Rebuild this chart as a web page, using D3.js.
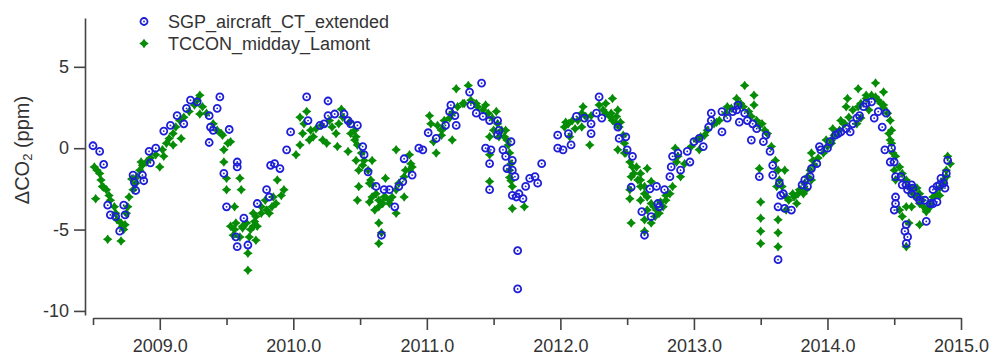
<!DOCTYPE html>
<html>
<head>
<meta charset="utf-8">
<script src="https://cdn.jsdelivr.net/npm/d3@7"></script>
<style>
  html, body { margin: 0; padding: 0; background: #fff; }
  svg { display: block; }
  text { font-family: "Liberation Sans", Arial, sans-serif; }
</style>
</head>
<body>
<svg id="chart" width="992" height="358"></svg>
<script>
// ---- data (decimal year, delta CO2 in ppm) ----
const seriesNames = ["SGP_aircraft_CT_extended", "TCCON_midday_Lamont"];

const sgpPoints = [
[2008.50,0.15],[2008.55,-0.2],[2008.58,-1.0],[2008.61,-3.5],[2008.63,-4.1],[2008.67,-4.2],[2008.70,-5.1],
[2008.74,-4.1],[2008.73,-3.5],[2008.80,-1.65],[2008.81,-2.1],[2008.82,-2.6],[2008.87,-1.65],[2008.88,-2.0],
[2008.92,-0.2],[2008.97,0],[2008.93,-0.9],[2009.03,1.05],[2009.08,1.4],[2009.13,2.0],[2009.18,1.5],
[2009.20,2.45],[2009.23,2.95],[2009.28,2.85],[2009.37,2.0],[2009.43,2.45],[2009.45,3.15],[2009.38,1.3],
[2009.40,1.1],[2009.37,0.35],[2009.52,1.15],[2009.48,-1.55],[2009.58,-0.85],[2009.58,-1.15],[2009.50,-3.6],
[2009.57,-5.45],[2009.58,-6.05],[2009.66,-5.95],[2009.63,-4.3],[2009.73,-3.4],[2009.80,-2.55],[2009.82,-3.0],
[2009.83,-1.05],[2009.86,-0.95],[2009.90,-1.25],[2009.95,-0.1],[2009.98,1.0],
[2010.10,3.15],[2010.11,1.7],[2010.20,1.4],[2010.23,1.5],[2010.26,2.0],[2010.26,2.9],[2010.31,2.1],
[2010.38,2.1],[2010.41,1.7],[2010.43,1.5],[2010.48,1.4],[2010.52,0.1],[2010.53,-0.4],[2010.56,-1.45],
[2010.62,-2.35],[2010.68,-2.55],[2010.72,-2.55],[2010.76,-3.6],[2010.79,-2.35],[2010.66,-5.35],[2010.82,-2.05],
[2010.83,-0.65],[2010.89,-1.65],[2010.94,0.0],[2010.97,-0.1],[2011.01,0.95],[2011.07,0.6],[2011.14,1.4],
[2011.17,2.25],[2011.21,2.0],[2011.22,1.4],[2011.18,2.65],[2011.32,3.45],[2011.41,4.0],[2011.33,2.65],
[2011.37,2.15],[2011.42,1.95],[2011.47,1.7],[2011.53,1.7],[2011.54,1.1],[2011.44,0.0],[2011.48,-0.1],
[2011.53,0.8],[2011.47,-0.95],[2011.47,-2.55],[2011.57,-0.1],[2011.59,-0.5],[2011.63,0.4],[2011.64,-0.75],
[2011.60,-1.25],[2011.64,-1.35],[2011.66,-1.75],[2011.64,-2.9],[2011.67,-3.0],[2011.69,-2.8],[2011.72,-3.1],
[2011.74,-2.35],[2011.77,-1.85],[2011.81,-1.75],[2011.83,-2.15],[2011.86,-0.95],[2011.68,-6.3],[2011.68,-8.65],
[2011.98,0.8],[2011.98,0.0],[2012.02,-0.1],[2012.06,0.9],[2012.08,0.2],[2012.12,1.95],[2012.18,1.85],
[2012.23,1.5],[2012.23,0.9],[2012.27,2.15],[2012.31,1.85],[2012.29,3.15],[2012.43,1.3],[2012.44,0.6],
[2012.49,0.7],[2012.50,-0.1],[2012.54,-0.5],[2012.53,-2.4],[2012.61,-3.9],[2012.63,-5.35],[2012.68,-4.2],
[2012.67,-2.5],[2012.72,-2.35],[2012.73,-3.4],[2012.74,-3.6],[2012.78,-2.55],[2012.82,-1.75],[2012.83,-1.15],
[2012.84,-0.5],[2012.88,-0.3],[2012.90,-1.35],[2012.95,-0.2],[2012.97,-0.85],[2013.00,0.4],[2013.04,0.6],
[2013.07,0.1],[2013.11,1.3],[2013.13,2.15],[2013.13,1.7],[2013.21,2.25],[2013.21,1.0],[2013.25,1.85],
[2013.29,2.25],[2013.32,2.35],[2013.33,2.65],[2013.34,1.6],[2013.38,2.15],[2013.40,1.7],[2013.44,1.5],
[2013.47,1.2],[2013.43,0.5],[2013.52,0.4],[2013.54,0.8],[2013.57,-0.2],[2013.59,-1.05],[2013.59,-1.65],
[2013.49,-1.75],[2013.63,-6.85],[2013.65,-2.9],[2013.68,-3.7],[2013.64,-2.15],[2013.67,-2.8],[2013.73,-3.8],
[2013.63,-3.6],[2013.81,-2.25],[2013.83,-1.95],[2013.85,-2.35],[2013.87,-1.75],[2013.88,-1.25],[2013.92,-0.95],
[2013.94,0.1],[2013.95,-0.1],[2014.00,0],[2014.02,0.4],[2014.06,0.8],[2014.08,0.9],[2014.10,1.0],
[2014.14,1.2],[2014.17,1.0],[2014.19,1.5],[2014.22,1.85],[2014.24,2.0],[2014.27,2.55],[2014.29,2.75],
[2014.33,2.85],[2014.35,1.85],[2014.38,2.25],[2014.41,1.3],[2014.44,2.15],[2014.43,-0.1],[2014.48,0],
[2014.47,-0.85],[2014.50,-0.85],[2014.51,-1.75],[2014.55,-1.75],[2014.56,-2.25],[2014.59,-2.25],[2014.60,-2.55],
[2014.63,-2.8],[2014.51,-3.0],[2014.51,-3.4],[2014.50,-3.8],[2014.59,-4.7],[2014.58,-5.1],[2014.60,-5.45],
[2014.59,-5.85],[2014.63,-2.25],[2014.64,-2.45],[2014.67,-3.0],[2014.69,-3.2],[2014.73,-3.2],[2014.74,-4.5],
[2014.77,-3.4],[2014.79,-3.4],[2014.82,-3.3],[2014.79,-2.55],[2014.82,-2.35],[2014.84,-2.25],[2014.85,-1.85],
[2014.87,-2.15],[2014.88,-2.45],[2014.89,-1.55],[2014.90,-0.75]
];

const tcconPoints = [
[2008.53,-1.35],[2008.52,-3.1],[2008.58,-2.4],[2008.61,-5.6],[2008.71,-5.7],[2008.74,-4.7],[2008.79,-1.9],
[2008.86,-0.85],[2009.00,-1.15],[2009.03,-0.5],[2009.10,0.2],[2009.16,0.6],[2009.30,3.25],[2009.30,2.1],
[2009.46,0.9],[2009.51,0.3],[2009.53,0.4],[2009.48,-0.1],[2009.48,-0.85],[2009.50,-1.85],[2009.60,-1.85],
[2009.61,-2.55],[2009.50,-2.55],[2009.56,-3.6],[2009.66,-6.45],[2009.66,-7.5],[2009.56,-5.0],[2009.62,-4.8],
[2009.68,-5.0],[2009.70,-4.0],[2009.71,-4.5],[2009.72,-4.2],[2009.72,-5.65],[2009.76,-3.6],[2009.79,-3.2],
[2009.85,-3.0],[2009.88,-1.95],[2010.02,-0.4],[2010.07,0.9],[2010.10,2.25],[2010.12,0.5],[2010.15,0.7],
[2010.05,0.2],[2010.22,0.5],[2010.25,0.3],[2010.32,0.9],[2010.33,0.1],[2010.36,2.4],[2010.41,-0.2],
[2010.43,0.9],[2010.46,0.5],[2010.47,-0.75],[2010.49,-1.35],[2010.52,-1.05],[2010.59,-0.75],[2010.49,-2.35],
[2010.48,-3.2],[2010.57,-2.15],[2010.59,-3.0],[2010.64,-3.6],[2010.68,-3.0],[2010.72,-3.4],[2010.64,-4.6],
[2010.66,-5.2],[2010.64,-5.85],[2010.69,-1.85],[2010.77,-0.1],[2010.77,-4.0],[2010.84,-1.35],[2010.87,-0.4],
[2010.88,-0.95],[2010.89,-1.15],[2010.83,-3.0],[2011.07,-0.3],[2011.02,2.0],[2011.03,1.5],[2011.05,0.4],
[2011.12,1.2],[2011.11,0.8],[2011.19,0.5],[2011.22,3.65],[2011.31,3.85],[2011.28,2.75],[2011.37,2.75],
[2011.44,2.65],[2011.52,2.25],[2011.59,1.1],[2011.60,0.5],[2011.47,0.7],[2011.50,1.1],[2011.54,0.7],
[2011.47,-0.4],[2011.47,-2.05],[2011.62,-1.8],[2011.63,-2.0],[2011.64,-3.7],[2011.73,-3.6],[2012.04,1.6],
[2012.07,0.7],[2012.11,1.2],[2012.17,2.55],[2012.16,1.3],[2012.22,0.2],[2012.39,3.05],[2012.34,2.75],
[2012.38,2.15],[2012.42,1.95],[2012.45,1.6],[2012.43,2.35],[2012.43,-0.1],[2012.48,-0.3],[2012.52,-0.85],
[2012.57,-1.15],[2012.60,-1.55],[2012.65,-1.25],[2012.53,-1.75],[2012.52,-2.55],[2012.52,-3.1],[2012.53,-4.6],
[2012.63,-5.1],[2012.60,-1.95],[2012.63,-2.35],[2012.68,-2.05],[2012.60,-3.2],[2012.65,-3.8],[2012.63,-4.4],
[2012.68,-4.6],[2012.71,-4.2],[2012.70,-3.6],[2012.75,-3.3],[2012.79,-2.9],[2012.84,-2.35],[2012.86,0],
[2012.87,-0.85],[2012.90,-1.75],[2013.04,-0.1],[2013.08,0.8],[2013.17,1.6],[2013.25,2.55],[2013.38,3.85],
[2013.32,3.05],[2013.35,2.75],[2013.45,3.25],[2013.45,2.65],[2013.49,1.4],[2013.53,1.1],[2013.49,-1.25],
[2013.50,-3.3],[2013.50,-4.3],[2013.50,-5.1],[2013.50,-5.85],[2013.62,-2.35],[2013.63,-4.4],[2013.63,-5.2],
[2013.63,-6.05],[2013.68,-1.35],[2013.69,-3.8],[2013.77,-3.4],[2013.74,-2.8],[2013.79,-2.55],[2013.82,-2.8],
[2013.84,-2.55],[2013.88,-1.95],[2013.89,-0.75],[2013.88,-0.3],[2013.87,-1.35],[2013.99,0.5],[2014.03,0.3],
[2014.04,1.2],[2014.10,1.7],[2014.13,1.5],[2014.14,2.55],[2014.15,3.05],[2014.23,3.65],[2014.29,3.25],
[2014.36,4.0],[2014.42,3.45],[2014.22,1.5],[2014.25,1.85],[2014.31,2.35],[2014.38,2.95],[2014.42,2.65],
[2014.46,0.9],[2014.47,0.5],[2014.48,0.3],[2014.49,-0.3],[2014.50,-1.35],[2014.51,-1.95],[2014.54,-3.8],
[2014.56,-4.2],[2014.59,-3.6],[2014.63,-3.6],[2014.59,-6.05],[2014.61,-4.6],[2014.64,-2.5],[2014.67,-2.45],
[2014.69,-2.8],[2014.71,-3.2],[2014.69,-4.7],[2014.74,-3.9],[2014.77,-3.6],[2014.84,-2.9],[2014.87,-1.95],
[2014.89,-1.35],[2014.90,-0.5],[2014.92,-0.95],
// dense bands
[2008.51,-1.15],[2008.55,-1.55],[2008.56,-1.95],[2008.57,-2.35],[2008.60,-2.55],[2008.62,-2.9],[2008.63,-3.2],
[2008.66,-3.6],[2008.67,-4.0],[2008.68,-4.4],[2008.71,-4.6],[2008.72,-4.8],[2008.73,-5.0],[2008.75,-4.0],
[2008.76,-3.6],[2008.77,-3.0],[2008.80,-2.55],[2008.82,-2.15],[2008.83,-1.75],[2008.85,-1.35],[2008.87,-1.05],
[2008.90,-0.85],[2008.93,-0.6],[2008.97,-0.4],[2009.02,-0.1],[2009.05,0.3],[2009.07,0.6],[2009.10,0.9],
[2009.12,1.3],[2009.15,1.7],[2009.18,1.9],[2009.22,2.25],[2009.26,2.65],[2009.28,2.95],[2009.32,2.55],
[2009.35,2.15],[2009.40,1.5],[2009.43,1.1],[2009.47,0.8],[2009.53,-4.8],[2009.55,-5.35],[2009.57,-4.6],
[2009.60,-5.45],[2009.62,-4.9],[2009.65,-4.6],[2009.67,-5.45],[2009.70,-4.8],[2009.73,-4.8],[2009.76,-4.0],
[2009.80,-3.8],[2009.82,-4.0],[2009.84,-3.6],[2009.87,-3.4],[2009.91,-2.9],[2009.93,-2.55],
[2010.05,1.9],[2010.08,1.5],[2010.13,1.1],[2010.17,1.2],[2010.21,1.4],[2010.27,1.7],[2010.29,1.3],
[2010.34,1.5],[2010.37,1.9],[2010.42,1.6],[2010.46,1.1],[2010.47,0.7],[2010.48,0.2],[2010.51,-0.3],
[2010.53,-0.75],[2010.56,-1.35],[2010.58,-1.95],[2010.59,-2.25],[2010.62,-2.8],[2010.64,-3.2],[2010.67,-3.4],
[2010.69,-3.0],[2010.72,-3.2],[2010.74,-3.0],[2010.77,-2.55],[2010.79,-2.15],[2010.83,-1.75],[2010.87,-1.35],
[2010.61,-3.8],[2010.57,-3.3],[2011.08,1.4],[2011.11,1.1],[2011.13,1.7],[2011.17,1.85],[2011.19,2.15],
[2011.23,2.55],[2011.27,2.75],[2011.33,2.95],[2011.38,2.55],[2011.42,2.35],[2011.46,2.15],[2011.49,1.85],
[2011.53,1.5],[2011.56,1.1],[2011.58,0.7],[2011.61,0.2],[2011.62,-0.3],[2011.63,-0.95],[2011.62,-1.35],
[2011.64,-2.35],[2012.03,1.3],[2012.06,1.5],[2012.09,1.7],[2012.13,1.7],[2012.16,2.15],[2012.19,1.95],
[2012.23,2.0],[2012.29,2.65],[2012.32,2.35],[2012.34,2.15],[2012.37,1.95],[2012.39,1.7],[2012.42,1.5],
[2012.44,1.3],[2012.47,0.8],[2012.48,0.3],[2012.49,-0.3],[2012.54,-1.15],[2012.55,-1.55],[2012.58,-1.95],
[2012.60,-2.35],[2012.63,-2.8],[2012.65,-3.0],[2012.68,-3.4],[2012.72,-3.8],[2012.74,-4.0],[2012.77,-3.6],
[2012.79,-3.2],[2012.82,-2.8],[2012.88,-0.5],[2012.93,-0.95],[2012.98,0.1],[2013.02,0.5],[2013.05,0.7],
[2013.10,1.1],[2013.15,1.5],[2013.19,1.7],[2013.24,2.15],[2013.28,2.45],[2013.33,2.75],[2013.37,2.55],
[2013.41,2.25],[2013.43,1.95],[2013.47,1.7],[2013.51,1.5],[2013.55,0.9],[2013.58,0.1],[2013.61,-0.75],
[2013.63,-1.35],[2013.64,-1.95],[2013.66,-2.35],[2013.69,-3.0],[2013.71,-3.2],[2013.75,-3.0],[2013.78,-2.8],
[2013.80,-2.55],[2013.83,-2.15],[2013.85,-1.75],[2013.90,-1.05],[2013.93,-0.6],[2013.97,-0.3],[2014.00,0.1],
[2014.03,0.5],[2014.05,0.8],[2014.09,1.1],[2014.12,1.5],[2014.16,1.9],[2014.19,2.35],[2014.23,2.55],
[2014.25,2.75],[2014.29,3.05],[2014.33,3.25],[2014.36,3.15],[2014.40,2.75],[2014.42,2.45],[2014.45,2.15],
[2014.47,1.7],[2014.48,1.1],[2014.51,-0.5],[2014.54,-1.15],[2014.56,-1.55],[2014.59,-1.95],[2014.61,-2.35],
[2014.64,-2.8],[2014.67,-3.0],[2014.69,-3.4],[2014.72,-3.6],[2014.74,-3.8],[2014.77,-3.4],[2014.79,-3.0],
[2014.82,-2.8],[2014.84,-2.45],[2014.87,-2.15],[2014.89,-1.75]
];

const xMajorTicks = [2009, 2010, 2011, 2012, 2013, 2014, 2015];
const xMinorTicks = [2008.5, 2009.5, 2010.5, 2011.5, 2012.5, 2013.5, 2014.5];
const yTicks = [-10, -5, 0, 5];

// ---- drawing ----
const svg = d3.select("#chart");
const blue = "#1e1ed8";
const green = "#078c07";
const axisColor = "#444";
const textColor = "#333";

const x = d3.scaleLinear().domain([2008.5, 2015.0]).range([93, 961]);
const y = d3.scaleLinear().domain([-10.25, 8]).range([315, 18]);

// y axis
svg.append("g").attr("transform", "translate(85,0)")
  .call(d3.axisLeft(y).tickValues(yTicks).tickFormat(d => String(d)).tickSize(11).tickSizeOuter(0).tickPadding(5));
// x axis major
svg.append("g").attr("transform", "translate(0,318)")
  .call(d3.axisBottom(x).tickValues(xMajorTicks).tickFormat(d3.format(".1f")).tickSize(12).tickSizeOuter(0).tickPadding(9));
// x axis minor
svg.append("g").attr("transform", "translate(0,318)")
  .call(d3.axisBottom(x).tickValues(xMinorTicks).tickFormat("").tickSize(7).tickSizeOuter(0))
  .select(".domain").remove();

svg.selectAll(".domain, .tick line").attr("stroke", axisColor).attr("stroke-width", 1.6);
svg.selectAll(".tick text").attr("fill", textColor).style("font-size", "18px")
  .style("font-family", "'Liberation Sans', Arial, sans-serif");

// y label
const yl = svg.append("text")
  .attr("transform", "translate(29,150) rotate(-90)")
  .attr("text-anchor", "middle")
  .attr("fill", textColor)
  .style("font-size", "20px");
yl.append("tspan").text("\u0394CO");
yl.append("tspan").attr("baseline-shift", "-25%").style("font-size", "13px").text("2");
yl.append("tspan").text(" (ppm)");

// marker shapes
const star = d3.symbol().type({
  draw(ctx, size) {
    const s = Math.sqrt(size) / 2, c = s * 0.42;
    ctx.moveTo(0, -s); ctx.lineTo(c, -c); ctx.lineTo(s, 0); ctx.lineTo(c, c);
    ctx.lineTo(0, s); ctx.lineTo(-c, c); ctx.lineTo(-s, 0); ctx.lineTo(-c, -c); ctx.closePath();
  }
}).size(90);

function drawStar(g) {
  g.append("path").attr("d", star).attr("fill", green);
}
function drawCircle(g) {
  g.append("circle").attr("r", 3.5).attr("fill", "none").attr("stroke", blue).attr("stroke-width", 1.8);
  g.append("circle").attr("r", 0.9).attr("fill", blue);
}

// TCCON (green) first, SGP (blue) on top
svg.append("g").selectAll("g").data(tcconPoints).join("g")
  .attr("transform", d => `translate(${x(d[0])},${y(d[1])})`)
  .each(function() { drawStar(d3.select(this)); });

svg.append("g").selectAll("g").data(sgpPoints).join("g")
  .attr("transform", d => `translate(${x(d[0])},${y(d[1])})`)
  .each(function() { drawCircle(d3.select(this)); });

// legend
const legend = svg.append("g");
const l1 = legend.append("g").attr("transform", "translate(144,21.5)");
drawCircle(l1);
const l2 = legend.append("g").attr("transform", "translate(144,43.5)");
drawStar(l2);
legend.selectAll("text.leg").data(seriesNames).join("text")
  .attr("class", "leg")
  .attr("x", 168)
  .attr("y", (d, i) => 21.5 + i * 22)
  .attr("dy", "0.35em")
  .attr("fill", textColor)
  .style("font-size", "18px")
  .text(d => d);
</script>
</body>
</html>
